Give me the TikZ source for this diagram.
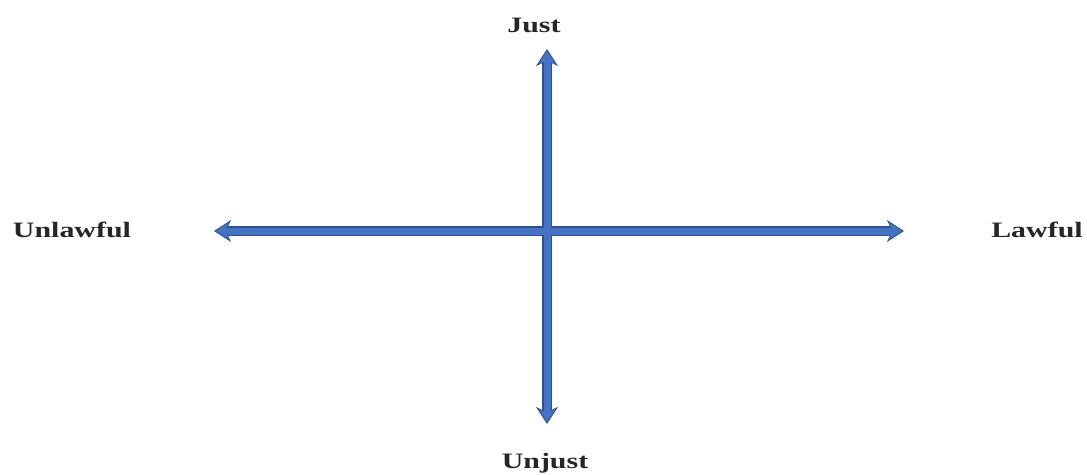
\documentclass[tikz,border=0pt]{standalone}
\usepackage{fontspec}
\setmainfont{Liberation Serif}
\usetikzlibrary{arrows.meta}
\definecolor{axisfill}{HTML}{4472C4}
\definecolor{axisedge}{HTML}{2F528F}
\definecolor{labeltext}{HTML}{262626}
\begin{document}
\begin{tikzpicture}[x=1pt,y=-1pt,
  axislabel/.style={text=labeltext,font=\fontsize{22}{24}\selectfont\bfseries,xscale=1.36,inner sep=0pt},
  axisouter/.style={line width=10pt,color=axisedge,-{Stealth[length=17pt,width=22pt,inset=5pt,line width=0pt]}},
  axisinner/.style={line width=7pt,color=axisfill,shorten >=2pt,-{Stealth[length=13pt,width=17pt,inset=4pt,line width=0pt]}}]
\useasboundingbox (0,0) rectangle (1087,474);
\fill[white] (0,0) rectangle (1087,474);
\coordinate (c) at (547,231);
\coordinate (left) at (214,231);
\coordinate (right) at (904,231);
\coordinate (top) at (547,49);
\coordinate (bottom) at (547,424);
% outlines
\draw[axisouter] (c) -- (left);
\draw[axisouter] (c) -- (right);
\draw[axisouter] (c) -- (top);
\draw[axisouter] (c) -- (bottom);
% fills
\draw[axisinner] (c) -- (left);
\draw[axisinner] (c) -- (right);
\draw[axisinner] (c) -- (top);
\draw[axisinner] (c) -- (bottom);
\node[axislabel] (just) at (534,25) {Just};
\node[axislabel] (unjust) at (545,463) {Unjust};
\node[axislabel] (unlawful) at (72,230) {Unlawful};
\node[axislabel] (lawful) at (1037,230) {Lawful};
\end{tikzpicture}
\end{document}
